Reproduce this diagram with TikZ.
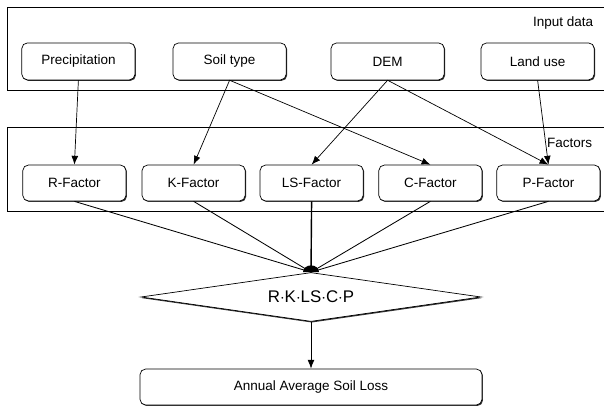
\documentclass[tikz,border=0pt]{standalone}
\usepackage{fontspec}
\setmainfont{Liberation Sans}
\usetikzlibrary{shapes.geometric,arrows.meta,shadows}

\begin{document}
\begin{tikzpicture}
  [font=\fontsize{9.6}{11}\selectfont,>={Latex[length=2.2mm,width=1.7mm]},
   frame/.style={draw,line width=.5pt,fill=white,inner sep=0pt,
     drop shadow={shadow xshift=.7pt,shadow yshift=-.7pt,fill=black!80,opacity=1}},
   box/.style={draw,rounded corners=4pt,line width=.5pt,fill=white,inner sep=0pt,
     drop shadow={shadow xshift=.7pt,shadow yshift=-.7pt,fill=black!80,opacity=1}},
   inbox/.style={box,minimum width=2.83cm,minimum height=.925cm},
   facbox/.style={box,minimum width=2.58cm,minimum height=.9cm}]
  \useasboundingbox (0,0) rectangle (15.1,10.125);

  % frames
  \node[frame,anchor=north west,minimum width=15.3cm,minimum height=2.075cm] (nin) at (.175,9.95) {};
  \node[anchor=east] (nintxt) at (14.95,9.55) {Input data};
  \node[frame,anchor=north west,minimum width=15.3cm,minimum height=2.1cm] (nfac) at (.175,6.95) {};
  \node[anchor=east] (nfactxt) at (14.93,6.55) {Factors};

  % input data
  \node[inbox] (nprec) at (1.96,8.59)  {Precipitation};
  \node[inbox] (nsoil) at (5.74,8.59)  {Soil type};
  \node[inbox] (ndem)  at (9.69,8.59)  {DEM};
  \node[inbox] (nland) at (13.44,8.59) {Land use};

  % factors
  \node[facbox] (nr)  at (1.86,5.55)  {R-Factor};
  \node[facbox] (nk)  at (4.84,5.55)  {K-Factor};
  \node[facbox] (nls) at (7.79,5.55)  {LS-Factor};
  \node[facbox] (nc)  at (10.76,5.55) {C-Factor};
  \node[facbox] (np)  at (13.71,5.55) {P-Factor};

  \foreach \from/\to in {nprec/nr,nsoil/nk,nsoil/nc,ndem/nls,ndem/np,nland/np}
    \draw[->,line width=.5pt] (\from.south) -- (\to.north);

  % product and result
  \node[draw,diamond,aspect=6.9,minimum width=8.5cm,minimum height=1.225cm,inner sep=0pt,
        line width=.5pt,fill=white,font=\fontsize{12}{14}\selectfont,
        drop shadow={shadow xshift=.5pt,shadow yshift=-.8pt,fill=black!80,opacity=1}]
    (nprod) at (7.775,2.7) {R$\cdot$K$\cdot$LS$\cdot$C$\cdot$P};
  \node[box,minimum width=8.55cm,minimum height=.9cm] (nloss) at (7.775,.45) {Annual Average Soil Loss};

  \foreach \from in {nr,nk,nc,np}
    \draw[line width=.6pt] (\from.south) -- (nprod.north);
  \draw[line width=1pt] (nls.south) -- (nprod.north);
  \fill (nprod.north) ++(-.2,0) arc[start angle=180,end angle=0,x radius=.2,y radius=.17];

  \draw[->,line width=.5pt] (nprod.south) -- (nloss.north);
\end{tikzpicture}
\end{document}
